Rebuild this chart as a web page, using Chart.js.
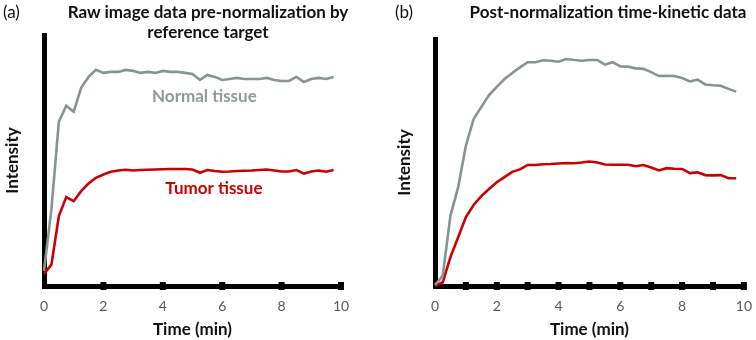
<!DOCTYPE html>
<html>
<head>
<meta charset="utf-8">
<script src="https://cdn.jsdelivr.net/npm/chart.js@4"></script>
<style>
body{margin:0;background:#fff;}
#wrap{position:relative;width:756px;height:340px;font-family:Lato,"Open Sans",sans-serif;}
.panel{position:absolute;top:0;width:378px;height:340px;}
.lbl{position:absolute;font-size:17px;color:#111;line-height:20px;}
.ttl{position:absolute;font-weight:bold;font-size:17px;color:#111;line-height:20px;text-align:center;white-space:nowrap;}
</style>
</head>
<body>
<div id="wrap">
  <div class="panel" style="left:0"><canvas id="chartA" width="378" height="340"></canvas></div>
  <div class="panel" style="left:378px"><canvas id="chartB" width="378" height="340"></canvas></div>
  <div class="lbl" style="left:3px;top:2px">(a)</div>
  <div class="ttl" style="left:58px;width:300px;top:2px">Raw image data pre-normalization by<br>reference target</div>
  <div class="lbl" style="left:395px;top:2px">(b)</div>
  <div class="ttl" style="left:458px;width:300px;top:2px">Post-normalization time-kinetic data</div>
</div>
<script>
// time points (min)
const times=[0,0.25,0.5,0.75,1,1.25,1.5,1.75,2,2.25,2.5,2.75,3,3.25,3.5,3.75,4,4.25,4.5,4.75,
  5,5.25,5.5,5.75,6,6.25,6.5,6.75,7,7.25,7.5,7.75,8,8.25,8.5,8.75,9,9.25,9.5,9.75];

// (a) raw data
const rawNormal=[6.0,30.6,65.5,71.8,69.4,79.0,83.3,86.1,84.9,85.3,85.3,86.1,85.7,84.9,85.3,84.9,85.7,85.3,85.3,84.9,
  84.5,82.1,84.1,83.3,82.1,82.5,82.9,82.5,82.5,82.5,82.9,82.1,81.7,81.7,83.3,81.3,82.5,82.9,82.5,83.3];
const rawTumor=[4.8,8.5,27.9,35.4,33.8,37.8,40.8,43.1,44.4,45.5,46.0,46.3,46.0,46.2,46.3,46.4,46.5,46.6,46.6,46.6,
  46.4,45.1,46.2,45.8,45.5,45.6,45.8,45.9,46.0,46.2,46.4,46.0,45.6,45.6,46.2,44.8,45.6,46.0,45.5,46.2];

// (b) normalized data
const normNormal=[0.4,4.2,28.5,40.0,56.8,67.6,72.5,77.3,80.6,83.8,86.2,88.5,90.6,90.6,91.4,91.2,90.8,91.9,91.5,91.2,
  91.5,91.5,89.6,90.6,88.9,88.8,88.1,87.9,86.6,85.0,85.1,85.0,84.2,82.8,83.5,81.6,81.3,81.1,79.8,78.7];
const normTumor=[0,1.5,11.7,19.7,27.9,32.8,36.4,39.3,42.0,44.1,46.2,47.2,49.0,49.0,49.3,49.4,49.6,49.8,49.7,50.0,
  50.4,50.0,49.2,49.1,49.1,49.1,48.5,49.0,48.0,46.8,47.7,47.5,47.4,45.7,46.0,44.9,44.8,44.9,43.6,43.6];

const xLabels=["0","2","4","6","8","10"];
const grayCol="#889393", redCol="#cc0000";
const FONT="Lato, 'Open Sans', sans-serif";

// square tick marks on the x axis
const tickMarks={id:"tickMarks",afterDraw(chart){
  const xs=chart.scales.x, ctx=chart.ctx;
  ctx.save(); ctx.fillStyle="#000";
  xs.ticks.forEach(t=>{ if(t.value===0) return; const px=xs.getPixelForValue(t.value); ctx.fillRect(px-3,xs.top-4,6,8); });
  ctx.restore();
}};

// text labels in data coordinates
const curveLabels={id:"curveLabels",afterDatasetsDraw(chart,args,opts){
  if(!opts.items) return;
  const ctx=chart.ctx, xs=chart.scales.x, ys=chart.scales.y;
  ctx.save(); ctx.font="bold 17px "+FONT; ctx.textAlign="center"; ctx.textBaseline="middle";
  opts.items.forEach(it=>{ ctx.fillStyle=it.color; ctx.fillText(it.text,xs.getPixelForValue(it.x),ys.getPixelForValue(it.y)); });
  ctx.restore();
}};

function makeChart(id,normal,tumor,cfg){
  const pts=arr=>times.map((t,i)=>({x:t,y:arr[i]}));
  return new Chart(document.getElementById(id),{
    type:"line",
    data:{datasets:[
      {data:pts(normal),borderColor:grayCol,borderWidth:2.6,pointRadius:0,tension:0,clip:false},
      {data:pts(tumor),borderColor:redCol,borderWidth:2.6,pointRadius:0,tension:0,clip:false}
    ]},
    options:{
      responsive:false,animation:false,
      layout:{padding:{left:0,top:cfg.top,right:cfg.right,bottom:0}},
      plugins:{legend:{display:false},tooltip:{enabled:false},curveLabels:{items:cfg.labels||null}},
      scales:{
        x:{type:"linear",min:0,max:10,
          grid:{display:false},border:{display:true,color:"#000",width:5},
          ticks:{stepSize:cfg.step,padding:4,color:"#595959",font:{family:FONT,size:14},
            callback:v=>(v%2===0?xLabels[v/2]:"")},
          title:{display:true,text:"Time (min)",color:"#111",font:{family:FONT,size:17,weight:"bold"},padding:{top:0,bottom:0}},
          afterFit:s=>{s.height=54;}},
        y:{min:0,max:100,
          grid:{display:false},border:{display:true,color:"#000",width:5},
          ticks:{display:false},
          title:{display:true,text:"Intensity",color:"#111",font:{family:FONT,size:17,weight:"bold"},padding:{top:cfg.ytp,bottom:0}},
          afterFit:s=>{s.width=cfg.left;}}
      }
    },
    plugins:[tickMarks,curveLabels]
  });
}

makeChart("chartA",rawNormal,rawTumor,{top:35,right:37,left:44,step:2,ytp:2,
  labels:[{text:"Normal tissue",x:5.4,y:75.3,color:"#8f9a9a"},{text:"Tumor tissue",x:5.72,y:39,color:redCol}]});
makeChart("chartB",normNormal,normTumor,{top:39,right:10,left:57,step:1,ytp:16});
</script>
</body>
</html>
